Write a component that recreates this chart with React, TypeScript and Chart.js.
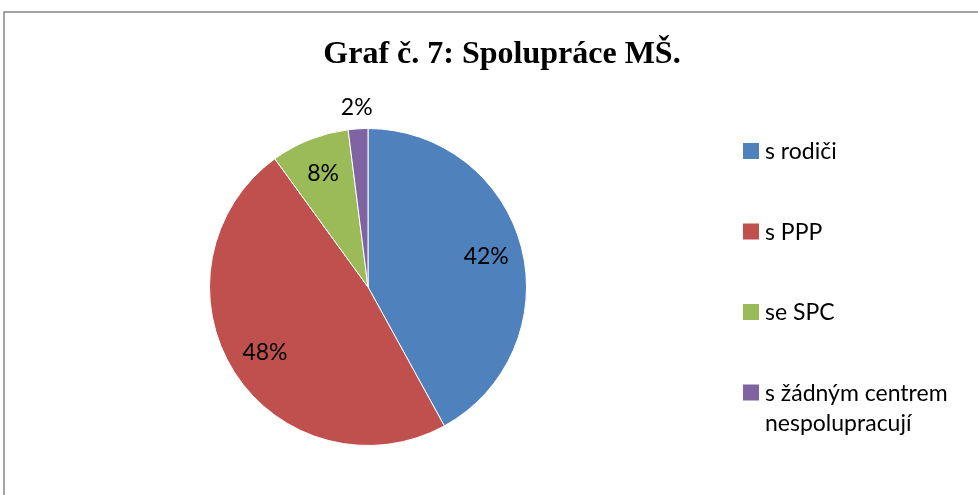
import React, { useEffect, useRef } from "react";
import { Chart, registerables } from "chart.js";

Chart.register(...registerables);

const titleText = "Graf č. 7: Spolupráce MŠ.";
const categories = ["s rodiči", "s PPP", "se SPC", "s žádným centrem nespolupracují"];
const legendLines = [["s rodiči"], ["s PPP"], ["se SPC"], ["s žádným centrem", "nespolupracují"]];
const values = [42, 48, 8, 2];
const colors = ["#4F81BD", "#C0504D", "#9BBB59", "#8064A2"];

const LABEL_FONT = "23px Lato, 'Open Sans', sans-serif";

const decorPlugin = {
  id: "decor",
  beforeDraw(chart: any) {
    const ctx = chart.ctx;
    ctx.save();
    ctx.fillStyle = "#ffffff";
    ctx.fillRect(0, 0, chart.width, chart.height);
    ctx.strokeStyle = "#878787";
    ctx.lineWidth = 1.5;
    ctx.strokeRect(4, 12, chart.width + 20, chart.height + 20);
    ctx.fillStyle = "#000";
    ctx.font = "bold 32px 'Liberation Serif', 'Times New Roman', serif";
    ctx.textAlign = "center";
    ctx.textBaseline = "alphabetic";
    ctx.fillText(titleText, 502, 63);
    ctx.restore();
  },
  afterDraw(chart: any) {
    const ctx = chart.ctx;
    ctx.save();
    // legend
    const x0 = 743;
    const y0 = 151;
    const step = 80.5;
    ctx.font = LABEL_FONT;
    ctx.textAlign = "left";
    ctx.textBaseline = "middle";
    categories.forEach((c, i) => {
      const cy = y0 + i * step;
      ctx.fillStyle = colors[i];
      ctx.fillRect(x0, cy - 8, 16, 16);
      ctx.fillStyle = "#000";
      legendLines[i].forEach((line, j) => {
        ctx.fillText(line, 765, cy + 1 + j * 30);
      });
    });
    // data labels
    const meta = chart.getDatasetMeta(0);
    const total = values.reduce((a, b) => a + b, 0);
    ctx.textAlign = "center";
    ctx.textBaseline = "middle";
    meta.data.forEach((arc: any, i: number) => {
      const p = arc.getProps(["x", "y", "startAngle", "endAngle", "outerRadius"], true);
      const mid = (p.startAngle + p.endAngle) / 2;
      const frac = values[i] / total;
      const r = frac < 0.05 ? p.outerRadius + 21 : p.outerRadius * 0.77;
      const lx = p.x + Math.cos(mid) * r;
      const ly = p.y + Math.sin(mid) * r;
      ctx.fillStyle = "#000";
      ctx.fillText(Math.round(frac * 100) + "%", lx, ly);
    });
    ctx.restore();
  },
};

export default function App() {
  const ref = useRef<HTMLCanvasElement | null>(null);
  useEffect(() => {
    document.body.style.margin = "0";
    const chart = new Chart(ref.current as HTMLCanvasElement, {
      type: "pie",
      data: {
        labels: categories,
        datasets: [
          {
            data: values,
            backgroundColor: colors,
            borderColor: "#ffffff",
            borderWidth: 1,
          },
        ],
      },
      options: {
        responsive: false,
        animation: false,
        layout: { padding: { left: 209, right: 451, top: 128, bottom: 49 } },
        plugins: {
          legend: { display: false },
          title: { display: false },
          tooltip: { enabled: false },
        },
      },
      plugins: [decorPlugin],
    } as any);
    return () => chart.destroy();
  }, []);
  return (
    <div style={{ width: 978, height: 495 }}>
      <canvas ref={ref} width={978} height={495} style={{ display: "block" }} />
    </div>
  );
}
